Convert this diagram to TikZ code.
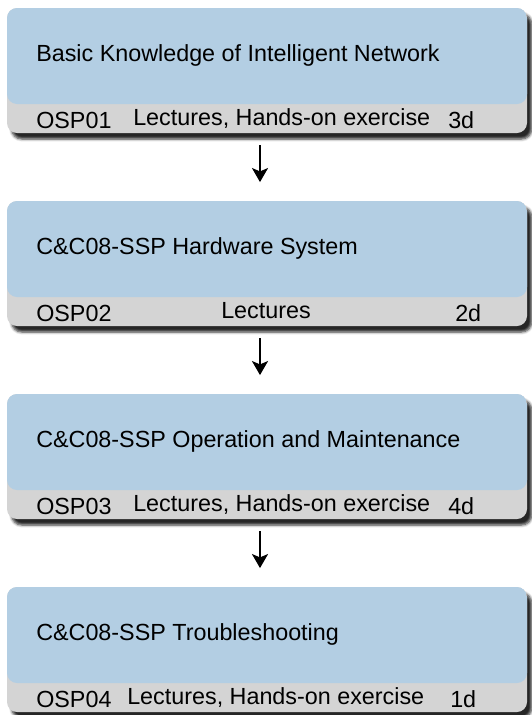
\documentclass[tikz,border=0pt]{standalone}
\usepackage{fontspec}
\setmainfont{Liberation Sans}
\usetikzlibrary{arrows.meta,shadows.blur}
\definecolor{bluec}{HTML}{B3CEE3}
\definecolor{grayc}{HTML}{D4D4D4}
\definecolor{shadc}{HTML}{6E6E6E}
\begin{document}
\begin{tikzpicture}[x=0.75pt,y=-0.75pt,
  box/.style={minimum width=390pt,minimum height=93.75pt,inner sep=0pt,
    rounded corners=7.5pt,fill=grayc,
    blur shadow={shadow xshift=3.5pt,shadow yshift=-4.5pt,shadow blur steps=5,shadow blur radius=2pt,shadow opacity=85,shadow blur extra rounding=1pt},
    path picture={\fill[bluec] (path picture bounding box.north west) rectangle ([yshift=21.75pt]path picture bounding box.south east);}},
  txt/.style={anchor=base west,inner sep=0pt,font=\fontsize{17.5pt}{21pt}\selectfont},
  txtc/.style={anchor=base,inner sep=0pt,font=\fontsize{17.5pt}{21pt}\selectfont},
  arr/.style={line width=1.5pt,-{Stealth[length=10.5pt,width=12pt,inset=2.5pt]}}]
\useasboundingbox (0,0) rectangle (532,715);
% boxes
\node[box] (b1) at (267,70.5) {};
\node[box] (b2) at (267,263.5) {};
\node[box] (b3) at (267,456.5) {};
\node[box] (b4) at (267,649.5) {};
% box 1
\node[txt] (t1) at (36,61) {Basic Knowledge of Intelligent Network};
\node[txt] (c1) at (36,128) {OSP01};
\node[txt] (m1) at (133,125) {Lectures, Hands-on exercise};
\node[txt] (d1) at (448,128) {3d};
% box 2
\node[txt] (t2) at (36,254) {C\&C08-SSP Hardware System};
\node[txt] (c2) at (36,321) {OSP02};
\node[txtc] (m2) at (266,318) {Lectures};
\node[txt] (d2) at (455,321) {2d};
% box 3
\node[txt] (t3) at (36,447) {C\&C08-SSP Operation and Maintenance};
\node[txt] (c3) at (36,514) {OSP03};
\node[txt] (m3) at (133,511) {Lectures, Hands-on exercise};
\node[txt] (d3) at (448,514) {4d};
% box 4
\node[txt] (t4) at (36,640) {C\&C08-SSP Troubleshooting};
\node[txt] (c4) at (36,707) {OSP04};
\node[txt] (m4) at (127,704) {Lectures, Hands-on exercise};
\node[txt] (d4) at (450,707) {1d};
% arrows
\draw[arr,shorten <=9pt,shorten >=14pt] ([xshift=-5.25pt]b1.south) -- ([xshift=-5.25pt]b2.north);
\draw[arr,shorten <=9pt,shorten >=14pt] ([xshift=-5.25pt]b2.south) -- ([xshift=-5.25pt]b3.north);
\draw[arr,shorten <=9pt,shorten >=14pt] ([xshift=-5.25pt]b3.south) -- ([xshift=-5.25pt]b4.north);
\end{tikzpicture}
\end{document}
